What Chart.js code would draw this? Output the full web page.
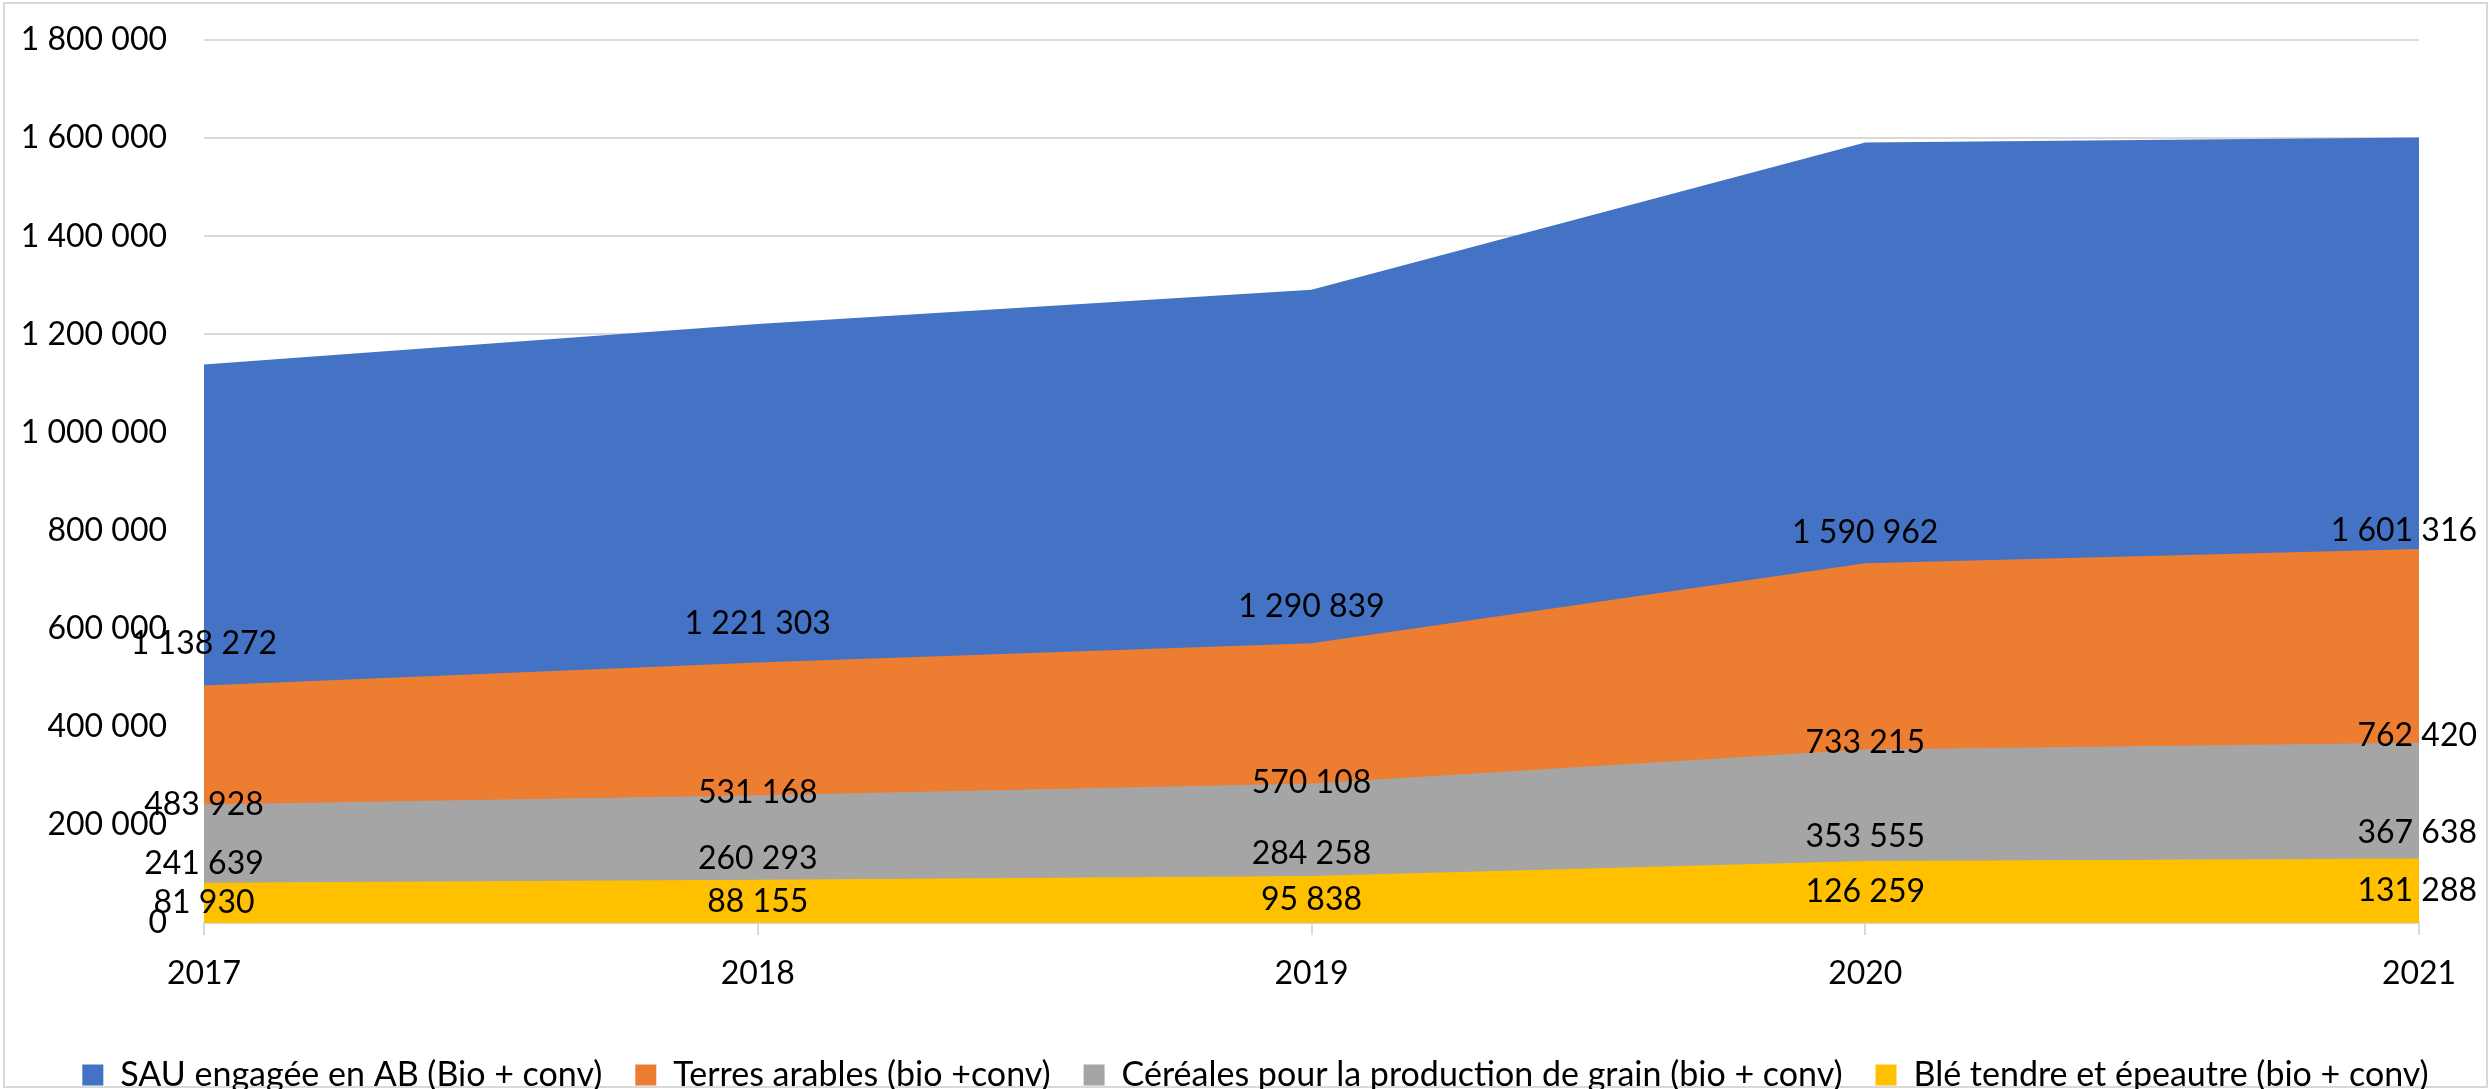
<!DOCTYPE html>
<html>
<head>
<meta charset="utf-8">
<script src="https://cdn.jsdelivr.net/npm/chart.js@4.4.0/dist/chart.umd.min.js"></script>
<style>
  html, body { margin: 0; padding: 0; background: #fff; }
  #wrap { width: 2491px; height: 1089px; }
</style>
</head>
<body>
<div id="wrap"><canvas id="areaChart" width="2491" height="1089"></canvas></div>
<script>
// years on the x axis
var years = ['2017', '2018', '2019', '2020', '2021'];

// series (hectares)
var sauAB = [1138272, 1221303, 1290839, 1590962, 1601316];
var terresArables = [483928, 531168, 570108, 733215, 762420];
var cereales = [241639, 260293, 284258, 353555, 367638];
var bleTendre = [81930, 88155, 95838, 126259, 131288];

var seriesNames = [
    'SAU engagée en AB (Bio + conv)',
    'Terres arables (bio +conv)',
    'Céréales pour la production de grain (bio + conv)',
    'Blé tendre et épeautre (bio + conv)'
];
var seriesColors = ['#4472C4', '#ED7D31', '#A5A5A5', '#FFC000'];

var FONT = 'Lato, "Open Sans", sans-serif';

// 1 138 272 style
function fmt(v) {
    return String(Math.round(v)).replace(/\B(?=(\d{3})+(?!\d))/g, ' ');
}

// white background + thin frame like the office chart
const framePlugin = {
    id: 'frame',
    beforeDraw(chart) {
        const ctx = chart.ctx;
        ctx.save();
        ctx.fillStyle = '#fff';
        ctx.fillRect(0, 0, chart.width, chart.height);
        ctx.strokeStyle = '#d9d9d9';
        ctx.lineWidth = 2;
        ctx.strokeRect(4, 3, chart.width - 8, chart.height - 5);
        ctx.restore();
    }
};

// value labels, placed half way up each area
const valueLabels = {
    id: 'valueLabels',
    afterDatasetsDraw(chart) {
        const ctx = chart.ctx;
        const xs = chart.scales.x, ys = chart.scales.y;
        ctx.save();
        ctx.font = '32px ' + FONT;
        ctx.fillStyle = '#000';
        ctx.textAlign = 'center';
        ctx.textBaseline = 'middle';
        chart.data.datasets.forEach(function(ds) {
            ds.data.forEach(function(v, i) {
                const txt = fmt(v);
                const w = ctx.measureText(txt).width;
                let x = xs.getPixelForValue(i);
                if (x + w / 2 > chart.width - 14) x = chart.width - 14 - w / 2;
                const y = ys.getPixelForValue(v / 2);
                ctx.fillText(txt, x, y);
            });
        });
        ctx.restore();
    }
};

const allSeries = [sauAB, terresArables, cereales, bleTendre];

const config = {
    type: 'line',
    data: {
        labels: years,
        datasets: allSeries.map(function(d, k) {
            return {
                label: seriesNames[k],
                data: d,
                backgroundColor: seriesColors[k],
                borderColor: seriesColors[k],
                borderWidth: 0,
                pointRadius: 0,
                fill: 'origin',
                tension: 0,
                yAxisID: 'y',
                order: 4 - k   // smallest area drawn last (on top)
            };
        })
    },
    options: {
        responsive: false,
        animation: false,
        layout: { padding: { top: 40, right: 0, left: 20, bottom: -13 } },
        plugins: {
            legend: {
                position: 'bottom',
                labels: {
                    font: { family: FONT, size: 34 },
                    color: '#000',
                    boxWidth: 21,
                    boxHeight: 21,
                    padding: 33,
                    sort: function(a, b) { return a.datasetIndex - b.datasetIndex; }
                }
            },
            tooltip: { enabled: false }
        },
        scales: {
            x: {
                offset: false,
                afterFit: function(s) { s.height = 102; },
                grid: {
                    drawOnChartArea: false,
                    color: '#d9d9d9',
                    lineWidth: 2,
                    tickLength: 12
                },
                border: { color: '#d9d9d9', width: 2 },
                ticks: {
                    font: { family: FONT, size: 32 },
                    color: '#000',
                    padding: 19,
                    maxRotation: 0
                }
            },
            y: {
                min: 0,
                max: 1800000,
                afterFit: function(s) { s.width = 184; },
                grid: {
                    color: '#d9d9d9',
                    lineWidth: 2,
                    drawTicks: true,
                    tickLength: 37,
                    tickColor: 'rgba(0,0,0,0)'
                },
                border: { display: false },
                ticks: {
                    stepSize: 200000,
                    padding: 0,
                    font: { family: FONT, size: 32 },
                    color: '#000',
                    callback: function(v) { return fmt(v); }
                }
            },
            // empty right margin so the plot ends where the reference does
            yRight: {
                type: 'linear',
                position: 'right',
                afterFit: function(s) { s.width = 72; },
                grid: { display: false },
                border: { display: false },
                ticks: { display: false }
            }
        }
    },
    plugins: [framePlugin, valueLabels]
};

const areaChart = new Chart('areaChart', config);
</script>
</body>
</html>
